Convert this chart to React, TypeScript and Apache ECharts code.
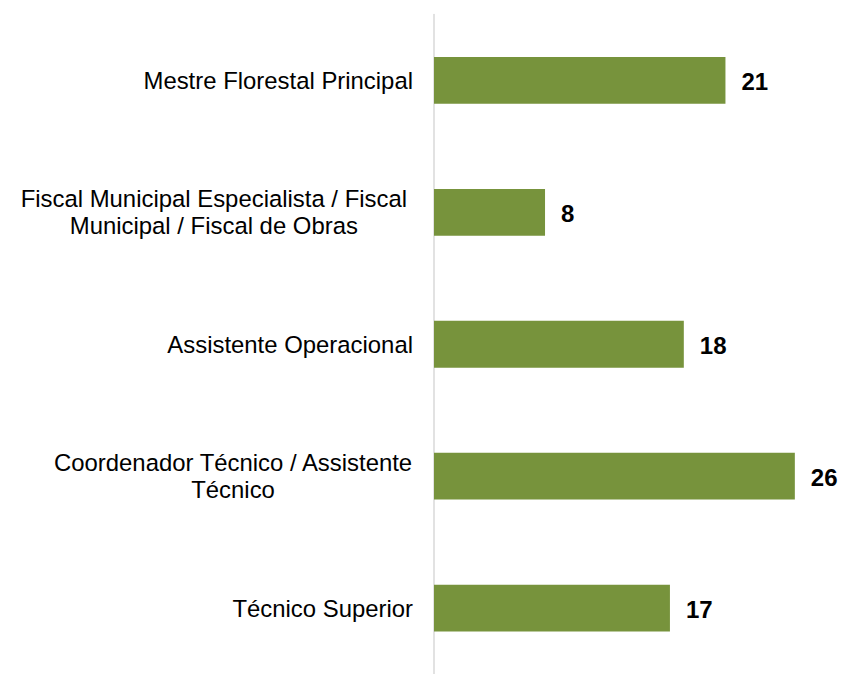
import React, { useEffect, useRef } from "react";
import * as echarts from "echarts";

const categories: string[] = [
  "Mestre Florestal Principal",
  "Fiscal Municipal Especialista / Fiscal\nMunicipal / Fiscal de Obras",
  "Assistente Operacional",
  "Coordenador Técnico / Assistente\nTécnico",
  "Técnico Superior",
];
const values: number[] = [21, 8, 18, 26, 17];

export default function App() {
  const ref = useRef<HTMLDivElement>(null);
  useEffect(() => {
    if (!ref.current) return;
    const chart = echarts.init(ref.current, undefined, { renderer: "svg" });
    const yData = categories.map((c, i) =>
      i === 1 ? { value: c, textStyle: { padding: [0, 6, 0, 0] } } : c
    );
    chart.setOption({
      animation: false,
      backgroundColor: "#ffffff",
      grid: { left: 434, right: 25.4, top: 14.5, bottom: -5.5, containLabel: false },
      xAxis: {
        type: "value",
        min: 0,
        max: 28,
        show: false,
      },
      yAxis: {
        type: "category",
        data: yData,
        inverse: true,
        axisLine: { show: true, lineStyle: { color: "#d9d9d9", width: 1.5 } },
        axisTick: { show: false },
        axisLabel: {
          margin: 21,
          color: "#000000",
          fontFamily: "Liberation Sans, Arial, sans-serif",
          fontSize: 23.9,
          lineHeight: 27,
          align: "right",
          formatter: (v: string) =>
            v
              .split("\n")
              .map((line) => `{c|${line}}`)
              .join("\n"),
          rich: {
            c: {
              align: "center",
              color: "#000000",
              fontFamily: "Liberation Sans, Arial, sans-serif",
              fontSize: 23.9,
              lineHeight: 27,
            },
          },
        },
      },
      series: [
        {
          type: "bar",
          data: values,
          barWidth: "35.5%",
          itemStyle: { color: "#77933C" },
          label: {
            show: true,
            position: "right",
            distance: 16,
            offset: [0, 1.5],
            color: "#000000",
            fontWeight: "bold",
            fontSize: 24,
            fontFamily: "Liberation Sans, Arial, sans-serif",
          },
        },
      ],
    });
    return () => chart.dispose();
  }, []);
  return (
    <div
      ref={ref}
      style={{ position: "fixed", left: 0, top: 0, width: 848, height: 674 }}
    />
  );
}
